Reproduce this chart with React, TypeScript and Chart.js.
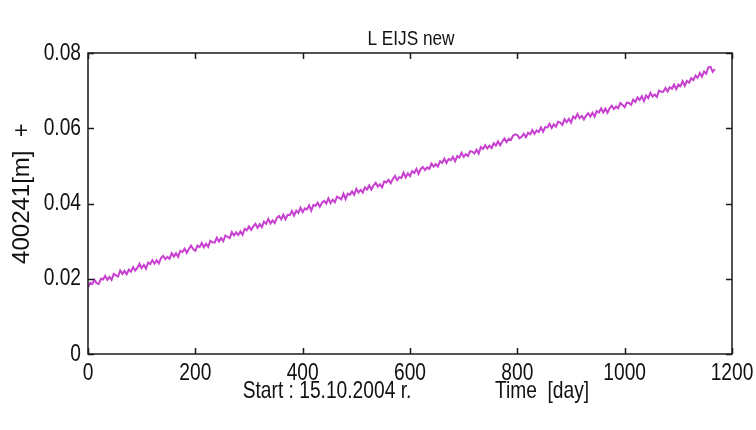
import React, { useEffect, useRef } from "react";
import { Chart, registerables } from "chart.js";

Chart.register(...registerables);

const TITLE = "L EIJS new";
const X_TITLE_LEFT = "Start : 15.10.2004 r.";
const X_TITLE_RIGHT = "Time  [day]";
const Y_TITLE = "400241[m]  +";
const X_TICKS = [0, 200, 400, 600, 800, 1000, 1200];
const Y_TICKS = [0, 0.02, 0.04, 0.06, 0.08];
const DAY_STEP = 4;

// displacement [m], one sample every 4 days starting at day 0
const VALUES = [
  0.0177, 0.0189, 0.0186, 0.0197, 0.0188, 0.0186, 0.0200, 0.0198, 0.0208, 0.0197,
  0.0205, 0.0197, 0.0213, 0.0209, 0.0206, 0.0222, 0.0213, 0.0221, 0.0212, 0.0224,
  0.0219, 0.0231, 0.0222, 0.0229, 0.0240, 0.0228, 0.0237, 0.0227, 0.0243, 0.0239,
  0.0249, 0.0240, 0.0249, 0.0241, 0.0255, 0.0261, 0.0252, 0.0258, 0.0253, 0.0268,
  0.0259, 0.0268, 0.0258, 0.0274, 0.0271, 0.0280, 0.0269, 0.0279, 0.0288, 0.0279,
  0.0274, 0.0288, 0.0284, 0.0295, 0.0284, 0.0293, 0.0285, 0.0301, 0.0297, 0.0296,
  0.0309, 0.0299, 0.0308, 0.0300, 0.0315, 0.0311, 0.0308, 0.0324, 0.0315, 0.0323,
  0.0316, 0.0326, 0.0317, 0.0333, 0.0329, 0.0339, 0.0330, 0.0339, 0.0346, 0.0335,
  0.0345, 0.0337, 0.0352, 0.0346, 0.0359, 0.0347, 0.0355, 0.0348, 0.0362, 0.0367,
  0.0358, 0.0370, 0.0358, 0.0370, 0.0369, 0.0380, 0.0368, 0.0381, 0.0375, 0.0389,
  0.0377, 0.0387, 0.0384, 0.0395, 0.0381, 0.0396, 0.0394, 0.0402, 0.0391, 0.0402,
  0.0407, 0.0400, 0.0414, 0.0401, 0.0410, 0.0403, 0.0418, 0.0415, 0.0411, 0.0426,
  0.0412, 0.0426, 0.0423, 0.0432, 0.0423, 0.0439, 0.0429, 0.0436, 0.0429, 0.0443,
  0.0437, 0.0448, 0.0437, 0.0448, 0.0455, 0.0445, 0.0451, 0.0443, 0.0459, 0.0456,
  0.0463, 0.0454, 0.0465, 0.0473, 0.0462, 0.0470, 0.0468, 0.0482, 0.0469, 0.0480,
  0.0473, 0.0486, 0.0481, 0.0492, 0.0479, 0.0492, 0.0497, 0.0489, 0.0496, 0.0492,
  0.0506, 0.0498, 0.0505, 0.0498, 0.0512, 0.0508, 0.0519, 0.0508, 0.0518, 0.0515,
  0.0524, 0.0512, 0.0526, 0.0522, 0.0535, 0.0524, 0.0531, 0.0526, 0.0539, 0.0538,
  0.0533, 0.0543, 0.0533, 0.0550, 0.0545, 0.0555, 0.0546, 0.0554, 0.0547, 0.0560,
  0.0554, 0.0565, 0.0555, 0.0565, 0.0573, 0.0563, 0.0572, 0.0569, 0.0580, 0.0584,
  0.0582, 0.0573, 0.0577, 0.0585, 0.0576, 0.0588, 0.0584, 0.0595, 0.0585, 0.0594,
  0.0590, 0.0602, 0.0591, 0.0603, 0.0602, 0.0612, 0.0601, 0.0610, 0.0604, 0.0617,
  0.0615, 0.0609, 0.0624, 0.0616, 0.0625, 0.0615, 0.0631, 0.0626, 0.0638, 0.0627,
  0.0633, 0.0623, 0.0633, 0.0640, 0.0631, 0.0641, 0.0631, 0.0646, 0.0642, 0.0653,
  0.0642, 0.0652, 0.0641, 0.0653, 0.0660, 0.0651, 0.0658, 0.0653, 0.0667, 0.0662,
  0.0656, 0.0668, 0.0667, 0.0662, 0.0676, 0.0670, 0.0682, 0.0675, 0.0685, 0.0672,
  0.0687, 0.0680, 0.0694, 0.0684, 0.0690, 0.0683, 0.0700, 0.0697, 0.0697, 0.0707,
  0.0698, 0.0709, 0.0705, 0.0716, 0.0704, 0.0716, 0.0712, 0.0725, 0.0713, 0.0726,
  0.0721, 0.0733, 0.0728, 0.0740, 0.0734, 0.0747, 0.0737, 0.0751, 0.0745, 0.0762,
  0.0763, 0.0750, 0.0757,
];

const DAYS = VALUES.map((_, i) => i * DAY_STEP);

const FONT_FAMILY = '"Liberation Sans", Arial, sans-serif';
const TEXT_COLOR = "#111111";
const LINE_COLOR = "#c840d0";

function drawText(
  ctx: CanvasRenderingContext2D,
  text: string,
  x: number,
  y: number,
  size: number,
  align: CanvasTextAlign,
  sx: number,
  rotate = 0
) {
  ctx.save();
  ctx.translate(x, y);
  if (rotate) ctx.rotate(rotate);
  ctx.scale(sx, 1);
  ctx.font = `${size}px ${FONT_FAMILY}`;
  ctx.textAlign = align;
  ctx.textBaseline = "middle";
  ctx.fillStyle = TEXT_COLOR;
  ctx.fillText(text, 0, 0);
  ctx.restore();
}

const boxPlugin = {
  id: "matlabBox",
  afterDraw(chart: any) {
    const { ctx, chartArea: a, scales } = chart;
    ctx.save();
    ctx.strokeStyle = "#1a1a1a";
    ctx.lineWidth = 1.5;
    ctx.strokeRect(a.left, a.top, a.right - a.left, a.bottom - a.top);
    const L = 6;
    ctx.beginPath();
    scales.x.ticks.forEach((t: any) => {
      const px = Math.round(scales.x.getPixelForValue(t.value)) + 0.5;
      ctx.moveTo(px, a.bottom);
      ctx.lineTo(px, a.bottom - L);
      ctx.moveTo(px, a.top);
      ctx.lineTo(px, a.top + L);
    });
    scales.y.ticks.forEach((t: any) => {
      const py = Math.round(scales.y.getPixelForValue(t.value)) + 0.5;
      ctx.moveTo(a.left, py);
      ctx.lineTo(a.left + L, py);
      ctx.moveTo(a.right, py);
      ctx.lineTo(a.right - L, py);
    });
    ctx.stroke();
    ctx.restore();

    // tick labels
    scales.x.ticks.forEach((t: any) => {
      const px = scales.x.getPixelForValue(t.value);
      drawText(ctx, String(t.value), px, a.bottom + 19, 24, "center", 0.8);
    });
    scales.y.ticks.forEach((t: any) => {
      const py = scales.y.getPixelForValue(t.value);
      const label = t.value === 0 ? "0" : Number(t.value).toFixed(2);
      drawText(ctx, label, a.left - 7, py, 24, "right", 0.8);
    });

    // titles
    const cx = (a.left + a.right) / 2;
    drawText(ctx, TITLE, cx + 1, 39, 21, "center", 0.82);
    drawText(ctx, X_TITLE_LEFT, cx - 83, a.bottom + 37, 24, "center", 0.8);
    drawText(ctx, X_TITLE_RIGHT, cx + 132, a.bottom + 37, 24, "center", 0.8);
    drawText(ctx, Y_TITLE, 22, (a.top + a.bottom) / 2 - 10, 24, "center", 1, -Math.PI / 2);
  },
};

export default function App() {
  const ref = useRef<HTMLCanvasElement>(null);

  useEffect(() => {
    if (!ref.current) return;
    const chart = new Chart(ref.current, {
      type: "line",
      data: {
        datasets: [
          {
            data: DAYS.map((d, i) => ({ x: d, y: VALUES[i] })),
            borderColor: LINE_COLOR,
            borderWidth: 2,
            pointRadius: 0,
            tension: 0,
            fill: false,
          },
        ],
      },
      options: {
        animation: false,
        responsive: false,
        layout: { padding: { top: 53, right: 24, bottom: 0, left: 0 } },
        plugins: {
          legend: { display: false },
          tooltip: { enabled: false },
          title: { display: false },
        },
        scales: {
          x: {
            type: "linear",
            min: 0,
            max: 1200,
            afterBuildTicks: (s: any) => {
              s.ticks = X_TICKS.map((v) => ({ value: v }));
            },
            afterFit: (s: any) => {
              s.height = 76;
            },
            grid: { display: false, drawTicks: false },
            border: { display: false },
            ticks: { display: false },
          },
          y: {
            type: "linear",
            min: 0,
            max: 0.08,
            afterBuildTicks: (s: any) => {
              s.ticks = Y_TICKS.map((v) => ({ value: v }));
            },
            afterFit: (s: any) => {
              s.width = 88;
            },
            grid: { display: false, drawTicks: false },
            border: { display: false },
            ticks: { display: false },
          },
        },
      },
      plugins: [boxPlugin],
    } as any);
    return () => chart.destroy();
  }, []);

  return (
    <div style={{ position: "fixed", left: 0, top: 0, width: 756, height: 430, background: "#fff" }}>
      <canvas ref={ref} width={756} height={430} style={{ display: "block" }} />
    </div>
  );
}
